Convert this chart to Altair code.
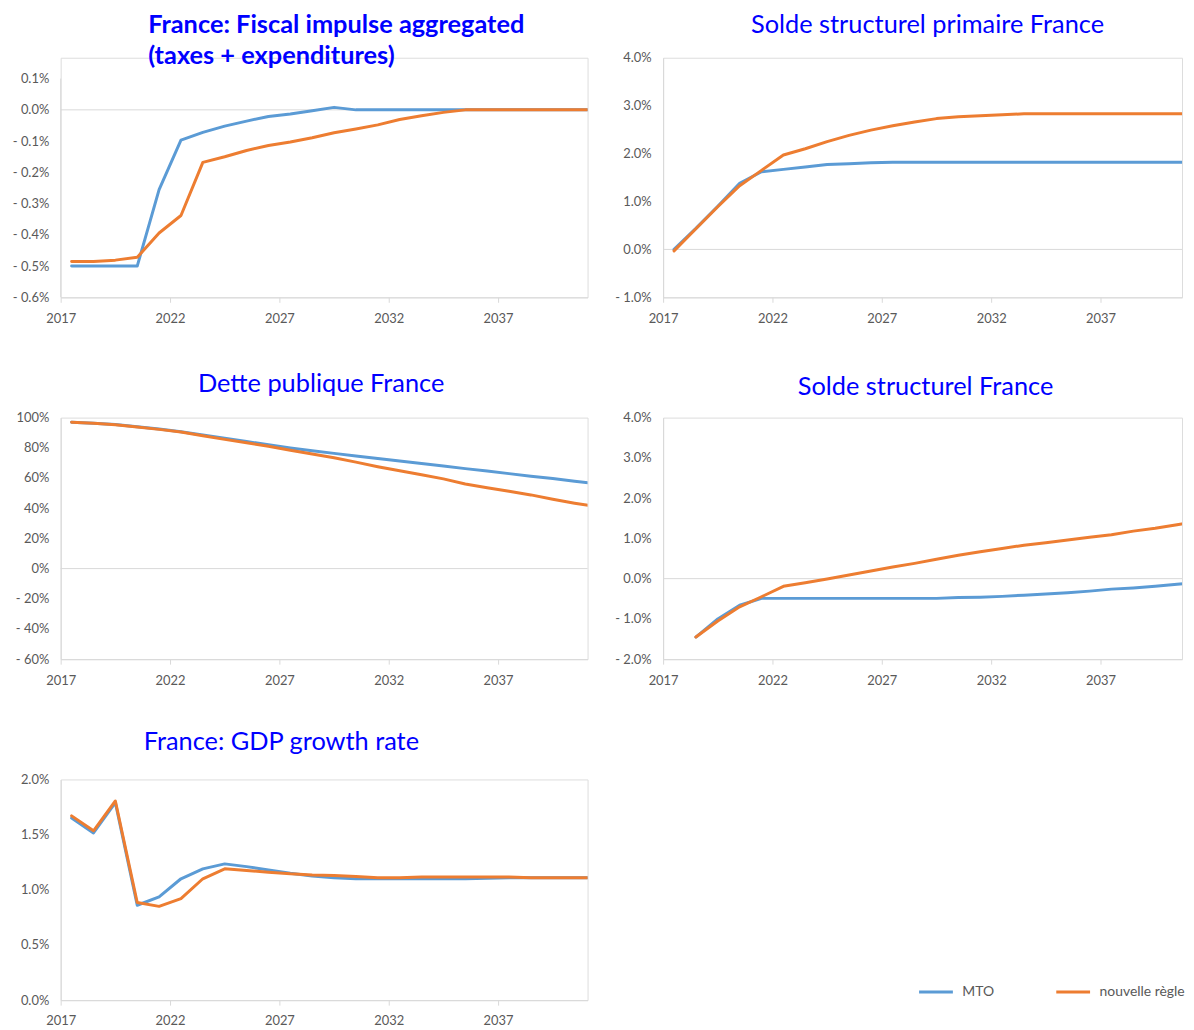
import altair as alt
import pandas as pd

# ---------------- data (values in %) ----------------
years = list(range(2017, 2042))
series_names = ["MTO", "nouvelle règle"]
series_colors = ["#5B9BD5", "#ED7D31"]

fiscal_mto = [-0.50, -0.50, -0.50, -0.50, -0.255, -0.097, -0.072, -0.052, -0.036, -0.021,
              -0.013, -0.003, 0.008, 0.0, 0.0, 0.0, 0.0, 0.0, 0.0, 0.0,
              0.0, 0.0, 0.0, 0.0, 0.0]
fiscal_regle = [-0.485, -0.485, -0.481, -0.472, -0.394, -0.338, -0.168, -0.150, -0.130, -0.114,
                -0.103, -0.089, -0.073, -0.061, -0.048, -0.031, -0.019, -0.008, 0.0, 0.0,
                0.0, 0.0, 0.0, 0.0, 0.0]

ssp_mto = [0.0, 0.44, 0.90, 1.38, 1.62, 1.67, 1.72, 1.77, 1.79, 1.81,
           1.82, 1.82, 1.82, 1.82, 1.82, 1.82, 1.82, 1.82, 1.82, 1.82,
           1.82, 1.82, 1.82, 1.82, 1.82]
ssp_regle = [-0.03, 0.43, 0.89, 1.33, 1.65, 1.97, 2.10, 2.25, 2.38, 2.49,
             2.58, 2.66, 2.73, 2.77, 2.79, 2.81, 2.83, 2.83, 2.83, 2.83,
             2.83, 2.83, 2.83, 2.83, 2.83]

dette_mto = [97.0, 96.3, 95.4, 94.0, 92.4, 90.6, 88.5, 86.4, 84.2, 82.0,
             79.9, 78.0, 76.3, 74.6, 72.9, 71.2, 69.6, 67.9, 66.2, 64.6,
             62.9, 61.2, 59.6, 57.9, 56.2]
dette_regle = [97.0, 96.2, 95.3, 93.8, 92.2, 90.5, 88.0, 85.6, 83.3, 81.0,
               78.4, 75.9, 73.4, 70.5, 67.5, 64.8, 62.2, 59.4, 56.0, 53.6,
               51.2, 48.8, 45.9, 43.3, 41.0]

ss_mto = [None, -1.45, -1.00, -0.66, -0.49, -0.49, -0.49, -0.49, -0.49, -0.49,
          -0.49, -0.49, -0.49, -0.47, -0.46, -0.44, -0.41, -0.38, -0.35, -0.31,
          -0.26, -0.23, -0.19, -0.14, -0.08]
ss_regle = [None, -1.45, -1.05, -0.70, -0.45, -0.19, -0.10, -0.01, 0.09, 0.19,
            0.29, 0.38, 0.48, 0.58, 0.67, 0.75, 0.83, 0.89, 0.96, 1.03,
            1.09, 1.18, 1.25, 1.34, 1.43]

gdp_mto = [1.65, 1.515, 1.79, 0.86, 0.935, 1.10, 1.19, 1.235, 1.21, 1.18,
           1.15, 1.125, 1.11, 1.10, 1.10, 1.10, 1.10, 1.10, 1.10, 1.105,
           1.11, 1.11, 1.11, 1.11, 1.11]
gdp_regle = [1.67, 1.535, 1.805, 0.885, 0.85, 0.92, 1.10, 1.19, 1.175, 1.16,
             1.145, 1.135, 1.13, 1.12, 1.11, 1.11, 1.115, 1.115, 1.115, 1.115,
             1.115, 1.11, 1.11, 1.11, 1.11]

x_tick_years = [2017, 2022, 2027, 2032, 2037]

# ---------------- style ----------------
FONT = "Lato"
AXIS_GRAY = "#D9D9D9"
LABEL_GRAY = "#595959"
TITLE_BLUE = "#0000FF"

color_scale = alt.Scale(domain=series_names, range=series_colors)


def long_df(mto, regle):
    rows = []
    for y, a, b in zip(years, mto, regle):
        if a is not None:
            rows.append({"year": y, "series": series_names[0], "value": a})
        if b is not None:
            rows.append({"year": y, "series": series_names[1], "value": b})
    return pd.DataFrame(rows)


def pct_expr(decimals):
    return ("(datum.value < -1e-9 ? '- ' : '') + format(abs(datum.value), '.%df') + '%%'" % decimals)


def panel(mto, regle, width, height, xmax, ydomain, yvalues, decimals, title,
          legend=None, axis_top=None):
    df = long_df(mto, regle)
    x_scale = alt.Scale(domain=[2016.5, xmax], nice=False, zero=False)
    y_scale = alt.Scale(domain=ydomain, nice=False, zero=False)
    x_axis = alt.Axis(
        values=[v - 0.5 for v in x_tick_years],
        labelExpr="format(datum.value + 0.5, 'd')",
        grid=False, ticks=True, tickSize=5, tickColor=AXIS_GRAY,
        domain=True, domainColor=AXIS_GRAY, domainWidth=1,
        labelFont=FONT, labelFontSize=13, labelColor=LABEL_GRAY,
        labelPadding=10, labelFlush=False, labelOverlap=False,
    )
    y_axis = alt.Axis(
        values=yvalues,
        labelExpr=pct_expr(decimals),
        grid=False, ticks=False,
        domain=axis_top is None, domainColor=AXIS_GRAY, domainWidth=1,
        labelFont=FONT, labelFontSize=13, labelColor=LABEL_GRAY,
        labelPadding=12, labelFlush=False, labelOverlap=False,
    )
    x_enc = alt.X("year:Q", title=None, scale=x_scale, axis=x_axis)
    y_enc = alt.Y("value:Q", title=None, scale=y_scale, axis=y_axis)

    layers = []
    anchor = pd.DataFrame({"zero": [0.0]})
    if ydomain[0] < 0:
        layers.append(
            alt.Chart(anchor).mark_rule(color=AXIS_GRAY, strokeWidth=1).encode(
                y=alt.Y("zero:Q", title=None, scale=y_scale, axis=y_axis)
            )
        )
    if axis_top is not None:
        layers.append(
            alt.Chart(anchor).mark_rule(color=AXIS_GRAY, strokeWidth=1).encode(
                x=alt.value(0),
                y=alt.YDatum(ydomain[0], scale=y_scale, axis=y_axis, title=None),
                y2=alt.datum(axis_top),
            )
        )
    for name in series_names:
        layers.append(
            alt.Chart(df)
            .transform_filter(alt.datum.series == name)
            .mark_line(strokeWidth=3, clip=True, strokeCap="round", strokeJoin="round")
            .encode(
                x=x_enc,
                y=y_enc,
                color=alt.Color("series:N", scale=color_scale,
                                legend=legend if legend is not None else None),
            )
        )
    return alt.layer(*layers).properties(width=width, height=height, title=title)


LEFT_W, RIGHT_W = 530, 522
LEFT_XMAX = 2016.5 + LEFT_W / 22.0
RIGHT_XMAX = 2016.5 + RIGHT_W / 22.0


def title_params(text, anchor="middle", dx=0, offset=20, bold=False, size=25.5):
    return alt.TitleParams(
        text=text, anchor=anchor, frame="group", dx=dx, offset=offset,
        font=FONT, fontSize=size, fontWeight="bold" if bold else "normal",
        color=TITLE_BLUE, lineHeight=31, align="left" if anchor == "start" else "center",
    )


p1 = panel(fiscal_mto, fiscal_regle, LEFT_W, 241, LEFT_XMAX,
           [-0.6, -0.6 + 0.1 * 241 / 220 * 7], [-0.6, -0.5, -0.4, -0.3, -0.2, -0.1, 0.0, 0.1], 1,
           title_params(["France: Fiscal impulse aggregated", "(taxes + expenditures)"],
                        anchor="start", dx=88, offset=-12, bold=True, size=25.5),
           axis_top=0.1)

p2 = panel(ssp_mto, ssp_regle, RIGHT_W, 241, RIGHT_XMAX,
           [-1.0, 4.0], [-1.0, 0.0, 1.0, 2.0, 3.0, 4.0], 1,
           title_params("Solde structurel primaire France", dx=5, offset=13))

p3 = panel(dette_mto, dette_regle, LEFT_W, 243, LEFT_XMAX,
           [-60, 100], [-60, -40, -20, 0, 20, 40, 60, 80, 100], 0,
           title_params("Dette publique France", dx=-3, offset=14))

p4 = panel(ss_mto, ss_regle, RIGHT_W, 243, RIGHT_XMAX,
           [-2.0, 4.0], [-2.0, -1.0, 0.0, 1.0, 2.0, 3.0, 4.0], 1,
           title_params("Solde structurel France", dx=3, offset=11))

legend = alt.Legend(
    orient="none", legendX=862, legendY=195, direction="horizontal", title=None,
    symbolType="stroke", symbolSize=1156, symbolStrokeWidth=3,
    labelFont=FONT, labelFontSize=14, labelColor=LABEL_GRAY,
    labelOffset=8, columnPadding=55,
)

p5 = panel(gdp_mto, gdp_regle, LEFT_W, 222, LEFT_XMAX,
           [0.0, 2.0], [0.0, 0.5, 1.0, 1.5, 2.0], 1,
           title_params("France: GDP growth rate", dx=-43, offset=18),
           legend=legend)

chart = (
    alt.concat(p1, p2, p3, p4, p5, columns=2, spacing={"row": 121, "column": 76},
               bounds="flush", align="each")
    .resolve_scale(color="independent")
    .resolve_legend(color="independent")
    .properties(padding={"left": 3, "top": 2, "right": 0, "bottom": 0})
    .configure_view(stroke=None)
    .configure(background="white")
)

chart.save("out.html", embed_options={"renderer": "svg", "actions": False})
